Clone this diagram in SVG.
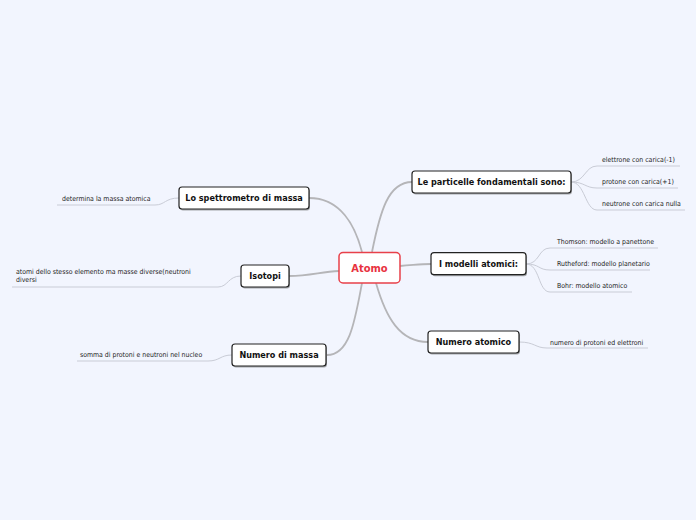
<svg xmlns="http://www.w3.org/2000/svg" width="696" height="520" viewBox="0 0 696 520">
<style>
.bg{fill:#F2F5FE}
.box{fill:#fff;stroke:#222;stroke-width:1.2}
.sh{fill:#666;opacity:.55}
.lbl{font-family:"DejaVu Sans Condensed","DejaVu Sans",sans-serif;font-weight:bold;font-size:9px;fill:#111;text-anchor:middle}
.sub{font-family:"DejaVu Sans Condensed","DejaVu Sans",sans-serif;font-size:6.9px;fill:#222}
.main{fill:none;stroke:#B5B5B8;stroke-width:1.8}
.leaf{fill:none;stroke:#C9CCD6;stroke-width:1}
</style>
<rect class="bg" x="0" y="0" width="696" height="520"/>
<g id="connectors">
<path class="main" d="M372 252 C380 212 388 182 412 182"/>
<path class="main" d="M400 266 C415 265 420 264 431 264"/>
<path class="main" d="M376 283 C386 318 400 342 428 342"/>
<path class="main" d="M362 252 C355 225 340 198 309 198"/>
<path class="main" d="M339 271 C320 272 310 276 289 276"/>
<path class="main" d="M362 283 C355 320 350 355 327 355"/>
<path class="leaf" d="M571 182 C585 182 585 166 597 166 L680 166"/>
<path class="leaf" d="M571 182 C585 182 585 188 597 188 L678 188"/>
<path class="leaf" d="M571 182 C585 182 585 210 597 210 L685 210"/>
<path class="leaf" d="M526 264 C540 264 538 248 550 248 L658 248"/>
<path class="leaf" d="M526 264 C540 264 538 270 550 270 L650 270"/>
<path class="leaf" d="M526 264 C540 264 538 292 550 292 L632 292"/>
<path class="leaf" d="M519 342 C535 342 535 348 547 348 L648 348"/>
<path class="leaf" d="M179 198 C165 198 165 205 155 205 L57 205"/>
<path class="leaf" d="M241 276 C228 276 228 287 218 287 L12 287"/>
<path class="leaf" d="M232 355 C220 355 220 361 208 361 L77 361"/>
</g>
<g id="atomo">
<rect x="339" y="252.5" width="61" height="30.5" rx="4" fill="#fff" stroke="#E8404A" stroke-width="1.5"/>
<text x="369.5" y="271.5" font-family="'DejaVu Sans Condensed','DejaVu Sans',sans-serif" font-weight="bold" font-size="11" fill="#E8333F" text-anchor="middle">Atomo</text>
</g>
<g id="particelle">
<rect class="sh" x="413" y="172.5" width="159" height="22" rx="3"/>
<rect class="box" x="412" y="171" width="159" height="22" rx="3"/>
<text class="lbl" x="491.5" y="185.2">Le particelle fondamentali sono:</text>
</g>
<g id="p1"><text class="sub" x="602" y="161.5">elettrone con carica(-1)</text></g>
<g id="p2"><text class="sub" x="602" y="183.5">protone con carica(+1)</text></g>
<g id="p3"><text class="sub" x="602" y="205.5">neutrone con carica nulla</text></g>
<g id="modelli">
<rect class="sh" x="432" y="254.2" width="95" height="22" rx="3"/>
<rect class="box" x="431" y="252.7" width="95" height="22" rx="3"/>
<text class="lbl" x="478.5" y="267">I modelli atomici:</text>
</g>
<g id="m1"><text class="sub" x="557" y="243.5">Thomson: modello a panettone</text></g>
<g id="m2"><text class="sub" x="557" y="265.5">Rutheford: modello planetario</text></g>
<g id="m3"><text class="sub" x="557" y="287.5">Bohr: modello atomico</text></g>
<g id="numatomico">
<rect class="sh" x="429" y="332.5" width="91" height="22" rx="3"/>
<rect class="box" x="428" y="331" width="91" height="22" rx="3"/>
<text class="lbl" x="473.5" y="345.2">Numero atomico</text>
</g>
<g id="na1"><text class="sub" x="550" y="344.5">numero di protoni ed elettroni</text></g>
<g id="spettrometro">
<rect class="sh" x="180" y="188.5" width="130" height="22" rx="3"/>
<rect class="box" x="179" y="187" width="130" height="22" rx="3"/>
<text class="lbl" x="244" y="201.2">Lo spettrometro di massa</text>
</g>
<g id="s1"><text class="sub" x="62" y="200.5">determina la massa atomica</text></g>
<g id="isotopi">
<rect class="sh" x="242" y="266.5" width="48" height="22" rx="3"/>
<rect class="box" x="241" y="265" width="48" height="22" rx="3"/>
<text class="lbl" x="265" y="279.2">Isotopi</text>
</g>
<g id="i1"><text class="sub" x="16" y="273.5">atomi dello stesso elemento ma masse diverse(neutroni</text><text class="sub" x="16" y="281.5">diversi</text></g>
<g id="nummassa">
<rect class="sh" x="233" y="345.5" width="94" height="22" rx="3"/>
<rect class="box" x="232" y="344" width="94" height="22" rx="3"/>
<text class="lbl" x="279" y="358.2">Numero di massa</text>
</g>
<g id="nm1"><text class="sub" x="80" y="356.5">somma di protoni e neutroni nel nucleo</text></g>
</svg>
